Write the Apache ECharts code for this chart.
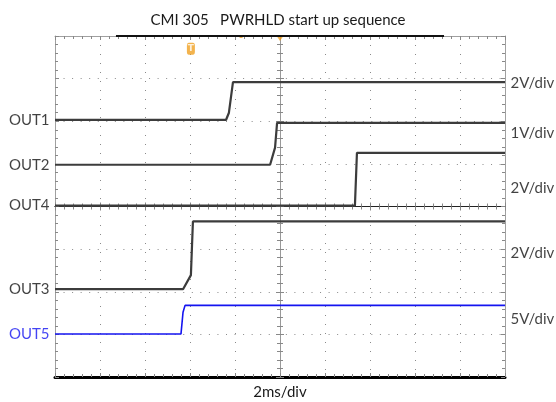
<!DOCTYPE html>
<html>
<head>
<meta charset="utf-8">
<script src="https://cdn.jsdelivr.net/npm/echarts@6/dist/echarts.min.js"></script>
<style>html,body{margin:0;padding:0;background:#fff;}#c{width:556px;height:402px;}</style>
</head>
<body>
<div id="c"></div>
<script>
// x in ms (2 ms/div, -10..10), y in divisions (-4..4, center 0)
const titleText = 'CMI 305   PWRHLD start up sequence';
const timeLabel = '2ms/div';
const traceNames = ['OUT1', 'OUT2', 'OUT4', 'OUT3', 'OUT5'];
const out1 = [[-10, 2.03], [-2.40, 2.03], [-2.27, 2.20], [-2.09, 2.92], [10, 2.92]];
const out2 = [[-10, 0.98], [-0.44, 0.98], [-0.22, 1.38], [-0.13, 1.96], [10, 1.96]];
const out4 = [[-10, 0.02], [3.33, 0.02], [3.42, 1.26], [10, 1.26]];
const out3 = [[-10, -1.94], [-4.31, -1.94], [-3.96, -1.61], [-3.87, -0.35], [10, -0.35]];
const out5 = [[-10, -2.99], [-4.40, -2.99], [-4.31, -2.48], [-4.22, -2.32], [10, -2.32]];
const scaleLabels = ['2V/div', '1V/div', '2V/div', '2V/div', '5V/div'];
const scaleLevels = [2.90, 1.73, 0.42, -1.10, -2.64];
const triggerPos = [-3.96, 3.70];
const memoryBar = [[-7.29, 4], [7.29, 4]];

const FONT = 'Lato';
const GRAY = '#3c3c3c';
const BLUE = '#1414f0';
const ORANGE = '#f0a020';
const traces = [out1, out2, out4, out3, out5];
const traceColors = [GRAY, GRAY, GRAY, GRAY, BLUE];
const labelColors = ['#111', '#111', '#111', '#111', BLUE];

function traceSeries(data, color, width) {
  return {
    type: 'line', showSymbol: false, symbol: 'none', silent: true,
    lineStyle: { color: color, width: width }, data: data
  };
}

const minorT = { show: true, splitNumber: 5, lineStyle: { color: '#888', width: 1 } };
function xAx(pos, onZero, lineColor, lineWidth, tickLen, extra) {
  return Object.assign({
    type: 'value', min: -10, max: 10, interval: 2, position: pos,
    axisLine: { show: true, onZero: onZero, onZeroAxisIndex: 0, lineStyle: { color: lineColor, width: lineWidth } },
    axisTick: { show: true, inside: true, length: tickLen, lineStyle: { color: '#888' } },
    minorTick: Object.assign({}, minorT, { length: tickLen - 1 }),
    axisLabel: { show: false }, splitLine: { show: false }
  }, extra || {});
}
function yAx(pos, onZero, lineColor, lineWidth, tickLen, extra) {
  return Object.assign({
    type: 'value', min: -4, max: 4, interval: 1, position: pos,
    axisLine: { show: true, onZero: onZero, onZeroAxisIndex: 0, lineStyle: { color: lineColor, width: lineWidth } },
    axisTick: { show: true, inside: true, length: tickLen, lineStyle: { color: '#888' } },
    minorTick: Object.assign({}, minorT, { length: tickLen - 1 }),
    axisLabel: { show: false }, splitLine: { show: false }
  }, extra || {});
}

const series = [
  {
    type: 'line', data: memoryBar, showSymbol: false, symbol: 'none', clip: false,
    lineStyle: { color: '#111', width: 2 }, silent: true
  }
];
traces.forEach((t, i) => series.push(traceSeries(t, traceColors[i], i === 4 ? 1.6 : 2.2)));
series.push({
  type: 'scatter', symbolSize: 1, clip: false, silent: true,
  itemStyle: { color: 'rgba(0,0,0,0)' },
  data: traces.map((t, i) => ({ value: t[0], label: { formatter: traceNames[i], color: labelColors[i] } })),
  label: { show: true, position: 'left', distance: 5, fontFamily: FONT, fontSize: 15 }
});
series.push({
  type: 'scatter', symbolSize: 1, clip: false, silent: true,
  itemStyle: { color: 'rgba(0,0,0,0)' },
  data: scaleLevels.map((y, i) => ({ value: [10, y], label: { formatter: scaleLabels[i] } })),
  label: { show: true, position: 'right', distance: 5, fontFamily: FONT, fontSize: 15, color: '#111' }
});
series.push({
  type: 'scatter', symbol: 'roundRect', symbolSize: [8, 12], clip: false, silent: true,
  itemStyle: { color: ORANGE },
  data: [triggerPos],
  label: { show: true, position: 'inside', formatter: 'T', color: '#fff', fontSize: 9, fontWeight: 'bold', fontFamily: 'DejaVu Sans' }
});
series.push({
  type: 'scatter', symbol: 'triangle', symbolRotate: 180, symbolSize: [8, 6], symbolOffset: [0, 2],
  clip: false, silent: true, itemStyle: { color: ORANGE },
  data: [[0, 4]]
});
series.push({
  type: 'scatter', symbol: 'rect', symbolSize: [3, 2], symbolOffset: [0, 1],
  clip: false, silent: true, itemStyle: { color: ORANGE },
  data: [[-1.73, 4]]
});

const chart = echarts.init(document.getElementById('c'), null, { renderer: 'canvas' });
chart.setOption({
  animation: false,
  backgroundColor: '#fff',
  title: { text: titleText, left: 'center', top: 8,
    textStyle: { fontFamily: FONT, fontSize: 15, fontWeight: 'normal', color: '#1a1a1a' } },
  grid: { left: 55, right: 51, top: 36, bottom: 25, containLabel: false, outerBoundsMode: 'none' },
  xAxis: [
    xAx('bottom', false, '#000', 3, 4, {
      name: timeLabel, nameLocation: 'middle', nameGap: 8,
      nameTextStyle: { fontFamily: FONT, fontSize: 15, color: '#1a1a1a' },
      splitLine: { show: true, lineStyle: { color: '#8a8a8a', width: 1, type: [1, 8] } }
    }),
    xAx('top', false, '#a0a0a0', 1, 4),
    xAx('bottom', true, '#222', 1, 4),
    xAx('top', true, '#222', 1, 4)
  ],
  yAxis: [
    yAx('left', false, '#a0a0a0', 1, 4, {
      splitLine: { show: true, lineStyle: { color: '#8a8a8a', width: 1, type: [1, 7.55] } }
    }),
    yAx('right', false, '#a0a0a0', 1, 4),
    yAx('left', true, '#999', 1, 4),
    yAx('right', true, '#999', 1, 4)
  ],
  series: series
});
</script>
</body>
</html>
